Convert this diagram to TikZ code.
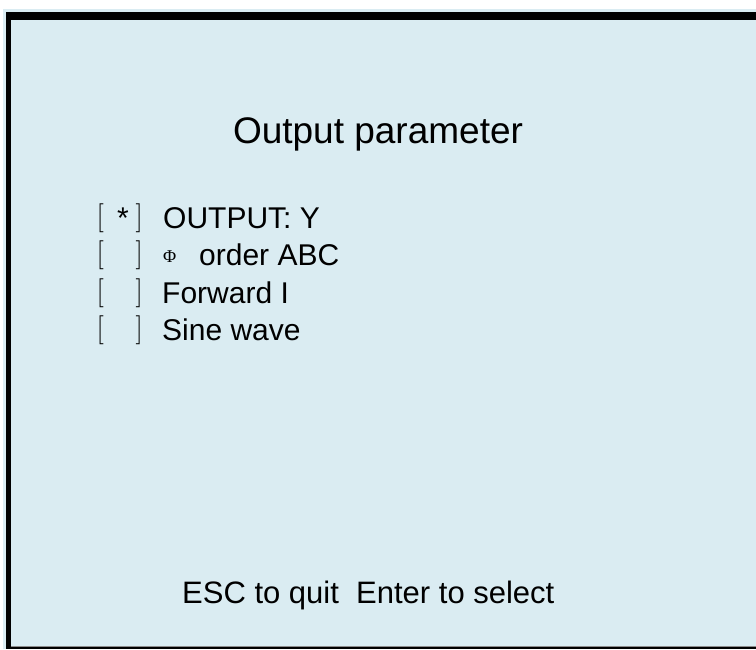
\documentclass[tikz,border=0pt]{standalone}
\usepackage{fontspec}
\newfontfamily\screenfont{Liberation Sans}
\newfontfamily\phifont{Liberation Serif}
\definecolor{lcdblue}{RGB}{218,236,242}
\begin{document}
\begin{tikzpicture}[x=1pt,y=-1pt, line join=round, line cap=round,
	txt/.style={inner sep=0pt, anchor=base west, font=\screenfont\fontsize{30}{30}\selectfont},
	brk/.style={inner sep=0pt, anchor=base west, font=\fontsize{29}{29}\selectfont}]
	\useasboundingbox (0,0) rectangle (756,649);
	\coordinate (A) at (3,9);
	\coordinate (B) at (756,649);
	% screen background
	\fill[lcdblue] (A) rectangle (B);
	% frame (top, left, bottom)
	\fill[black] (6,12) rectangle (756,20);
	\fill[black] (6,12) rectangle (11,649);
	\fill[black!45] (11,645.5) rectangle (756,647);
	\fill[black] (11,647) rectangle (756,649);
	% title
	\node[inner sep=0pt, anchor=base, font=\screenfont\fontsize{37}{37}\selectfont] (title) at (378,143) {Output parameter};
	% check boxes
	\foreach \i/\y in {1/228,2/265.5,3/303,4/340.5}{
		\node[brk] (lb\i) at (96.5,\y-3) {[};
		\node[brk] (rb\i) at (135.5,\y-3) {]};
	}
	\node[txt] (star) at (117,228) {*};
	% menu items
	\node[txt] (out) at (163,228) {OUTPUT: Y};
	\node[inner sep=0pt, anchor=base west, font=\phifont\fontsize{18}{18}\selectfont] (phi) at (163,262) {Φ};
	\node[txt] (ord) at (199,265.5) {order ABC};
	\node[txt] (fwd) at (162,303) {Forward I};
	\node[txt] (sine) at (162,340.5) {Sine wave};
	% hint line
	\node[inner sep=0pt, anchor=base west, font=\screenfont\fontsize{31}{31}\selectfont] (hint) at (182,603) {ESC to quit~ Enter to select};
\end{tikzpicture}
\end{document}
